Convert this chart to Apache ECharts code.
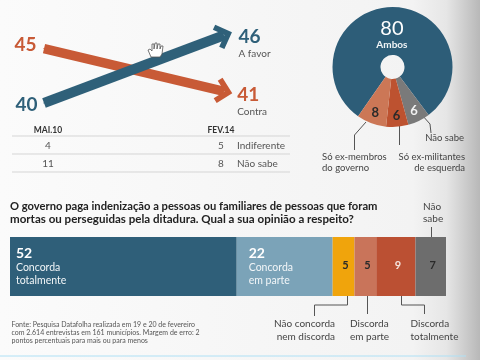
<!DOCTYPE html>
<html>
<head>
<meta charset="utf-8">
<script src="https://cdn.jsdelivr.net/npm/echarts@6/dist/echarts.min.js"></script>
<style>
html, body { margin: 0; padding: 0; background: #fff; }
#main { width: 480px; height: 360px; }
</style>
</head>
<body>
<div id="main"></div>
<script>
// evolucao
var periodos = ['MAI.10', 'FEV.14'];
var aFavor = [40, 46];
var contra = [45, 41];
var indiferente = [4, 5];
var naoSabeEvol = [11, 8];

// pizza
var pizzaNomes = ['Ambos', 'Não sabe', 'Só ex-militantes de esquerda', 'Só ex-membros do governo'];
var pizzaValores = [80, 6, 6, 8];
var pizzaCores = ['#2d5d78', '#7a7a7a', '#bd5230', '#cc7756'];

// barra
var barraNomes = ['Concorda\ntotalmente', 'Concorda\nem parte', 'Não concorda nem discorda', 'Discorda em parte', 'Discorda totalmente', 'Não sabe'];
var barraValores = [52, 22, 5, 5, 9, 7];
var barraCores = ['#2f5f79', '#7ba3b8', '#f0a40c', '#c9745a', '#bb5033', '#6d6d6d'];

var fonte = 'Lato';
var azul = '#2f6079';
var laranja = '#c85a36';
var dom = document.getElementById('main');
var myChart = echarts.init(dom, null, { renderer: 'canvas' });

function txt(x, y, s, size, color, align, weight) {
	return {
		type: 'text', x: x, y: y, silent: true,
		style: { text: s, font: (weight || 'normal') + ' ' + size + 'px ' + fonte, fill: color, textAlign: align || 'left', textVerticalAlign: 'middle' }
	};
}
function linha(pts, color, w) {
	return {
		type: 'polyline', silent: true,
		shape: { points: pts },
		style: { stroke: color || '#555', lineWidth: w || 1, fill: null }
	};
}

var graficos = [
	// tabela
	txt(48, 130.5, periodos[0], 8.5, '#333', 'center', 'bold'),
	txt(221, 130.5, periodos[1], 8.5, '#333', 'center', 'bold'),
	linha([[12, 136], [290, 136]], '#d5d5d5'),
	linha([[12, 154], [290, 154]], '#d5d5d5'),
	linha([[12, 172], [290, 172]], '#d5d5d5'),
	txt(48, 146, String(indiferente[0]), 10, '#555', 'center'),
	txt(221, 146, String(indiferente[1]), 10, '#555', 'center'),
	txt(237, 146, 'Indiferente', 10, '#555'),
	txt(48, 163.5, String(naoSabeEvol[0]), 10, '#555', 'center'),
	txt(221, 163.5, String(naoSabeEvol[1]), 10, '#555', 'center'),
	txt(237, 163.5, 'Não sabe', 10, '#555'),
	// mao do cursor
	{
		type: 'polygon', silent: true, z: 10,
		shape: { points: [[151, 57], [148, 50], [150, 49], [152, 51], [152, 44], [154, 44], [154, 49], [155, 43], [157, 43], [157, 49], [158, 44], [160, 44], [160, 49], [161, 46], [163, 46], [162, 54], [160, 57]] },
		style: { fill: '#fff', stroke: '#555', lineWidth: 0.8 }
	},
	// pizza, rotulos
	linha([[422, 115], [430, 124], [431, 133]]),
	linha([[399.5, 123], [399.5, 145]]),
	linha([[366, 122], [354.5, 135], [354.5, 150]]),
	txt(464, 138, 'Não sabe', 9.5, '#444', 'right'),
	txt(322, 157, 'Só ex-membros', 9.5, '#444'),
	txt(322, 168, 'do governo', 9.5, '#444'),
	txt(465, 157, 'Só ex-militantes', 9.5, '#444', 'right'),
	txt(465, 168, 'de esquerda', 9.5, '#444', 'right'),
	// titulo
	txt(10, 206, 'O governo paga indenização a pessoas ou familiares de pessoas que foram', 11.2, '#222', 'left', 'bold'),
	txt(10, 219, 'mortas ou perseguidas pela ditadura. Qual a sua opinião a respeito?', 11.55, '#222', 'left', 'bold'),
	// barra, rotulos
	txt(423, 207, 'Não', 10, '#444'),
	txt(423, 219, 'sabe', 10, '#444'),
	linha([[431.5, 227], [431.5, 238]]),
	linha([[347.5, 295], [347.5, 305], [314.5, 305], [314.5, 316]]),
	linha([[367.5, 295], [367.5, 314]]),
	linha([[401.5, 295], [401.5, 305], [424.5, 305], [424.5, 314]]),
	txt(335, 324, 'Não concorda', 10, '#444', 'right'),
	txt(335, 336.5, 'nem discorda', 10, '#444', 'right'),
	txt(350, 324, 'Discorda', 10, '#444'),
	txt(350, 336.5, 'em parte', 10, '#444'),
	txt(410.5, 324, 'Discorda', 10, '#444'),
	txt(410.5, 336.5, 'totalmente', 10, '#444'),
	// fonte
	txt(11.5, 325, 'Fonte: Pesquisa Datafolha realizada em 19 e 20 de fevereiro', 7, '#555'),
	txt(11.5, 333, 'com 2.614 entrevistas em 161 municípios. Margem de erro: 2', 7, '#555'),
	txt(11.5, 341, 'pontos percentuais para mais ou para menos', 7, '#555'),
	linha([[0, 356], [466, 356]], '#aee0f5', 1)
];

var seta = 'path://M0 4 L4 0 L17 13 L4 26 L0 22 L9 13 Z';

function pontos(vals, rot, cor, esq, dir) {
	return [
		{
			// simbolo minimo: com symbol none o rotulo nao aparece
			value: vals[0], symbol: 'rect', symbolSize: 1,
			label: {
				show: true, position: 'left', distance: esq.d, offset: esq.o, formatter: '{v|{c}}',
				rich: { v: { fontSize: 19, fontWeight: 'bold', color: cor, fontFamily: fonte } }
			}
		},
		{
			value: vals[1], symbol: seta, symbolSize: [17, 26], symbolRotate: rot,
			label: {
				show: true, position: 'right', distance: dir.d, offset: dir.o, align: 'left',
				formatter: '{v|{c}}\n{n|' + dir.n + '}',
				rich: {
					v: { fontSize: 19, fontWeight: 'bold', color: cor, fontFamily: fonte, lineHeight: 19 },
					n: { fontSize: 10, color: '#555', fontFamily: fonte, lineHeight: 15 }
				}
			}
		}
	];
}

var barSeries = barraValores.map(function(v, i) {
	var escuro = i == 2 || i == 3 || i == 5;
	var s = {
		name: barraNomes[i], type: 'bar', stack: 'total', xAxisIndex: 1, yAxisIndex: 2,
		barWidth: '100%',
		itemStyle: { color: barraCores[i] },
		data: [v]
	};
	if (i < 2) {
		s.label = {
			show: true, position: 'insideLeft', distance: i == 0 ? 6 : 12,
			formatter: '{v|' + v + '}\n{n|' + barraNomes[i].split('\n').join('}\n{n|') + '}',
			rich: {
				v: { fontSize: 14, color: '#fff', fontFamily: fonte, fontWeight: 'bold', lineHeight: 15 },
				n: { fontSize: 10.5, color: '#f2f6f8', fontFamily: fonte, lineHeight: 13 }
			}
		};
	} else {
		s.label = {
			show: true, position: 'inside', offset: [2, -1], formatter: String(v),
			fontSize: 11, fontWeight: 'bold', fontFamily: fonte, color: escuro ? '#2a2a2a' : '#f5e5de'
		};
	}
	return s;
});

var pizzaDados = pizzaValores.map(function(v, i) {
	return { name: pizzaNomes[i], value: v, itemStyle: { color: pizzaCores[i] } };
});

option = {
	animation: false,
	backgroundColor: new echarts.graphic.LinearGradient(0, 0, 1, 0, [
		{ offset: 0, color: '#fbfbfb' },
		{ offset: 0.86, color: '#f3f3f3' },
		{ offset: 0.93, color: '#e6e6e6' },
		{ offset: 1, color: '#b8b8b8' }
	]),
	textStyle: { fontFamily: fonte },
	grid: [
		{ left: 44, width: 180, top: 35.3, height: 67.7 },
		{ left: 10, width: 436, top: 237, height: 59 }
	],
	xAxis: [
		{ type: 'category', gridIndex: 0, data: periodos, boundaryGap: false, show: false },
		{ type: 'value', gridIndex: 1, min: 0, max: 100, show: false }
	],
	yAxis: [
		{ type: 'value', gridIndex: 0, min: 40, max: 46, show: false },
		{ type: 'value', gridIndex: 0, min: 39.92, max: 46.24, show: false },
		{ type: 'category', gridIndex: 1, data: [''], show: false }
	],
	graphic: graficos,
	series: [
		{
			name: 'Contra', type: 'line', xAxisIndex: 0, yAxisIndex: 1, z: 2,
			lineStyle: { color: laranja, width: 9.5, cap: 'butt' },
			itemStyle: { color: laranja, opacity: 1 },
			data: pontos(contra, -13, laranja, { d: 7, o: [0, -4] }, { d: 2, o: [0, 10.5], n: 'Contra' })
		},
		{
			name: 'A favor', type: 'line', xAxisIndex: 0, yAxisIndex: 0, z: 3,
			lineStyle: { color: azul, width: 10, cap: 'butt' },
			itemStyle: { color: azul, opacity: 1 },
			data: pontos(aFavor, 20.6, azul, { d: 6, o: [0, 2] }, { d: 2, o: [0, 9], n: 'A favor' })
		},
		{
			type: 'pie', center: [392.5, 67], radius: [12, 60], startAngle: 235, clockwise: true,
			label: { show: false }, labelLine: { show: false }, silent: true,
			itemStyle: { borderWidth: 0 },
			data: pizzaDados
		},
		{
			// so os rotulos das fatias pequenas
			type: 'pie', center: [392.5, 67], radius: [32, 60], startAngle: 235, silent: true,
			itemStyle: { color: 'rgba(0,0,0,0)', borderWidth: 0 }, labelLine: { show: false },
			label: { show: true, position: 'inside', formatter: '{c}', fontSize: 13, fontWeight: 'bold', fontFamily: fonte, color: '#2a2a2a' },
			data: pizzaValores.map(function(v, i) {
				var d = { name: pizzaNomes[i], value: v };
				if (i == 0) d.label = { show: false };
				if (i == 1) d.label = { color: '#f2f2f2' };
				return d;
			})
		},
		{
			// rotulo central do Ambos
			type: 'pie', center: [392.5, 68], radius: [0, 60], startAngle: 235, silent: true,
			itemStyle: { color: 'rgba(0,0,0,0)', borderWidth: 0 }, labelLine: { show: false },
			label: { show: false },
			data: pizzaValores.map(function(v, i) {
				var d = { name: pizzaNomes[i], value: v };
				if (i == 0) d.label = {
					show: true, position: 'inside', formatter: '{v|{c}}\n{n|{b}}',
					rich: {
						v: { fontSize: 20, color: '#fff', fontFamily: fonte, lineHeight: 20 },
						n: { fontSize: 10, color: '#f0f4f6', fontFamily: fonte, fontWeight: 'bold', lineHeight: 13 }
					}
				};
				return d;
			})
		}
	].concat(barSeries)
};

myChart.setOption(option, true);
</script>
</body>
</html>
